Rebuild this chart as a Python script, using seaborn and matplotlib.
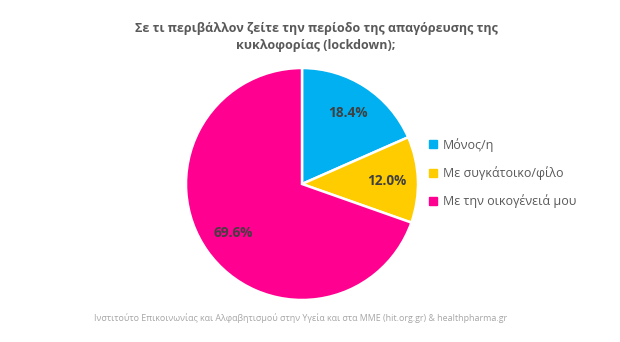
import matplotlib
matplotlib.use("Agg")
import matplotlib.pyplot as plt
from matplotlib.lines import Line2D
import seaborn as sns

categories = ["Μόνος/η", "Με συγκάτοικο/φίλο", "Με την οικογένειά μου"]
values = [18.4, 12.0, 69.6]
colors_hex = ["#00B0F0", "#FFCC00", "#FF0090"]
title = "Σε τι περιβάλλον ζείτε την περίοδο της απαγόρευσης της\nκυκλοφορίας (lockdown);"
footer = "Ινστιτούτο Επικοινωνίας και Αλφαβητισμού στην Υγεία και στα ΜΜΕ (hit.org.gr) & healthpharma.gr"

sns.set_theme(style="white")
plt.rcParams['font.family'] = ['Open Sans', 'DejaVu Sans']
palette = sns.color_palette(colors_hex)

W, H = 620, 342
fig = plt.figure(figsize=(W / 100, H / 100), dpi=100)
cx, cy, r = 302, 184, 116
ax = fig.add_axes([(cx - r) / W, 1 - (cy + r) / H, 2 * r / W, 2 * r / H])

wedges, texts, autotexts = ax.pie(
    values, colors=palette, startangle=90, counterclock=False,
    autopct=lambda p: f"{p:.1f}%", pctdistance=0.73,
    wedgeprops=dict(edgecolor="white", linewidth=1.8),
    textprops=dict(color="#404040", fontsize=9.8, fontweight="bold"))
ax.set_xlim(-1, 1)
ax.set_ylim(-1, 1)
ax.set_aspect("equal")
ax.axis("off")

fig.text(316 / W, 1 - 37 / H, title, ha="center", va="center",
         fontsize=9, fontweight="bold", color="#595959", linespacing=1.45)

handles = [Line2D([0], [0], marker="s", linestyle="none", markersize=6,
                  markerfacecolor=c, markeredgecolor=c) for c in palette]
fig.legend(handles, categories, loc="upper left",
           bbox_to_anchor=(422 / W, 1 - 133 / H), frameon=False,
           fontsize=9, labelcolor="#595959", handletextpad=0.3,
           labelspacing=1.15, handlelength=1.0, borderaxespad=0)

fig.text(301 / W, 1 - 318 / H, footer, ha="center", va="center",
         fontsize=6.4, color="#A6A6A6")

fig.savefig("out.png", dpi=100, facecolor="white")
